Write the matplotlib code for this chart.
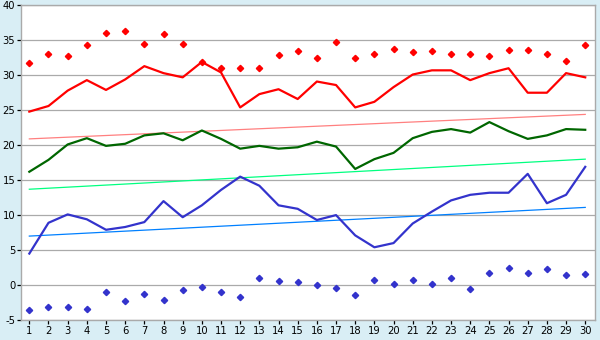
import matplotlib
matplotlib.use("Agg")
import matplotlib.pyplot as plt

plt.rcParams["axes.unicode_minus"] = False

days = list(range(1, 31))

max_abs = [31.7, 33.0, 32.8, 34.3, 36.0, 36.3, 34.4, 35.9, 34.4, 31.9,
           31.0, 31.0, 31.1, 32.9, 33.4, 32.4, 34.7, 32.4, 33.0, 33.7,
           33.3, 33.4, 33.1, 33.1, 32.7, 33.6, 33.6, 33.0, 32.0, 34.3]
max_avg = [24.8, 25.6, 27.8, 29.3, 27.9, 29.4, 31.3, 30.3, 29.7, 31.9,
           30.4, 25.4, 27.3, 28.0, 26.6, 29.1, 28.6, 25.4, 26.2, 28.3,
           30.1, 30.7, 30.7, 29.3, 30.3, 31.0, 27.5, 27.5, 30.3, 29.7]
mean_avg = [16.2, 17.9, 20.1, 21.0, 19.9, 20.2, 21.4, 21.7, 20.7, 22.1,
            20.9, 19.5, 19.9, 19.5, 19.7, 20.5, 19.8, 16.6, 18.0, 18.9,
            21.0, 21.9, 22.3, 21.8, 23.3, 22.0, 20.9, 21.4, 22.3, 22.2]
min_avg = [4.5, 8.9, 10.1, 9.4, 7.9, 8.3, 9.0, 12.0, 9.7, 11.4,
           13.6, 15.5, 14.2, 11.4, 10.9, 9.3, 10.0, 7.1, 5.4, 6.0,
           8.8, 10.5, 12.1, 12.9, 13.2, 13.2, 15.9, 11.7, 12.9, 16.9]
min_abs = [-3.6, -3.1, -3.1, -3.4, -1.0, -2.3, -1.3, -2.1, -0.7, -0.3,
           -1.0, -1.7, 1.0, 0.6, 0.4, 0.0, -0.4, -1.4, 0.7, 0.1,
           0.7, 0.1, 1.0, -0.6, 1.7, 2.4, 1.7, 2.3, 1.4, 1.6]

# normal lines: value on first and last day
norm_days = [1, 30]
norm_max = [20.9, 24.4]
norm_mean = [13.7, 18.0]
norm_min = [7.0, 11.1]

bg = "#d9eef5"
fig = plt.figure(figsize=(6, 3.4), dpi=100, facecolor=bg)
ax = fig.add_axes([0.0345, 0.0588, 0.9575, 0.9256])
ax.set_facecolor("white")

ax.plot(norm_days, norm_max, color="#ff8080", lw=0.9)
ax.plot(norm_days, norm_mean, color="#00ff80", lw=0.9)
ax.plot(norm_days, norm_min, color="#0080ff", lw=0.9)

ax.plot(days, max_avg, color="#ff0000", lw=1.6)
ax.plot(days, mean_avg, color="#006600", lw=1.6)
ax.plot(days, min_avg, color="#3333cc", lw=1.6)

ax.plot(days, max_abs, ls="none", marker="D", ms=3.2, color="#ff0000")
ax.plot(days, min_abs, ls="none", marker="D", ms=3.2, color="#3333cc")

ax.set_xlim(0.55, 30.52)
ax.set_ylim(-5, 40)
ax.set_xticks(days)
ax.set_yticks(range(-5, 41, 5))
ax.yaxis.grid(True, color="#aaaaaa", lw=0.9)
ax.set_axisbelow(True)
for s in ax.spines.values():
    s.set_color("#aaaaaa")
    s.set_linewidth(1)
ax.tick_params(axis="both", labelsize=7.2, color="black", length=3,
               width=0.9, pad=1)

fig.savefig("out.png", dpi=100, facecolor=bg)
